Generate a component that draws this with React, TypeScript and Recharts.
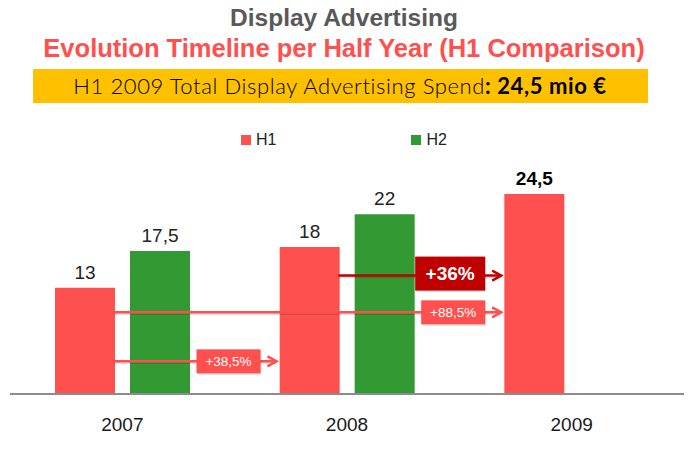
import { BarChart, Bar, XAxis, YAxis, LabelList, ReferenceLine } from "recharts";

const TITLE = "Display Advertising";
const SUBTITLE = "Evolution Timeline per Half Year (H1 Comparison)";
const BANNER_TEXT = "H1 2009 Total Display Advertising Spend";
const BANNER_VALUE = ": 24,5 mio €";

const YEARS = ["2007", "2008", "2009"];
const H1 = [13, 18, 24.5];
const H2: (number | null)[] = [17.5, 22, null];

const SERIES = [
  { key: "h1", name: "H1", color: "#FF5050" },
  { key: "h2", name: "H2", color: "#339933" },
];

// growth arrows: from year, to year, height on the value axis, label
const ARROW_FROM = ["2007", "2007", "2008"];
const ARROW_TO = ["2008", "2009", "2009"];
const ARROW_LEVEL = [4, 10, 14.5];
const ARROW_TEXT = ["+38,5%", "+88,5%", "+36%"];
const ARROW_STRONG = [false, false, true];

const RED = "#FF5050";
const RED_DARK = "#C00000";
const BAR_SIZE = 60;
const BAR_GAP = 15;
const FONT = "'Liberation Sans', Arial, sans-serif";

const data = YEARS.map((year, i) => ({ year, h1: H1[i], h2: H2[i] }));

const fmt = (v: number) => String(v).replace(".", ",");

const valueLabel = (p: any) => {
  if (p.value == null) return null;
  const vb = p.viewBox ?? p;
  const bold = p.value === H1[H1.length - 1];
  return (
    <text
      x={vb.x + vb.width / 2}
      y={vb.y - 9}
      textAnchor="middle"
      fontFamily={FONT}
      fontSize={19}
      fontWeight={bold ? 700 : 400}
      fill={bold ? "#000" : "#222"}
    >
      {fmt(p.value)}
    </text>
  );
};

const arrowShape = (i: number) => (p: any) => {
  const strong = ARROW_STRONG[i];
  const color = strong ? RED_DARK : RED;
  const y = p.y1;
  const x0 = p.x1 - BAR_GAP / 2 - 1;
  const tip = p.x2 - (BAR_SIZE * 2 + BAR_GAP) / 2 - 3;
  const w = strong ? 70 : 64;
  const h = strong ? 34 : 24;
  const bx = tip - 16 - w;
  const by = strong ? y - 19 : y - h / 2;
  return (
    <g>
      <line x1={x0} y1={y + 1.5} x2={tip} y2={y + 1.5} stroke="#000" strokeOpacity={0.12} strokeWidth={2.5} />
      <line x1={x0} y1={y} x2={tip} y2={y} stroke={color} strokeWidth={2.5} />
      <polyline
        points={`${tip - 9},${y - 5} ${tip},${y} ${tip - 9},${y + 5}`}
        fill="none"
        stroke={color}
        strokeWidth={2.5}
      />
      <rect x={bx + 1} y={by + 1.5} width={w} height={h} fill="#000" fillOpacity={0.12} />
      <rect x={bx} y={by} width={w} height={h} fill={color} />
      <text
        x={bx + w / 2}
        y={by + h / 2}
        dominantBaseline="central"
        textAnchor="middle"
        fill="#fff"
        fontFamily={FONT}
        fontSize={strong ? 19 : 13.5}
        fontWeight={strong ? 700 : 400}
      >
        {ARROW_TEXT[i]}
      </text>
    </g>
  );
};

export default function App() {
  return (
    <div
      style={{
        position: "absolute",
        left: 0,
        top: 0,
        width: 695,
        height: 459,
        background: "#fff",
        fontFamily: FONT,
      }}
    >
      <BarChart
        width={695}
        height={459}
        data={data}
        margin={{ top: 149, right: 11, bottom: 5, left: 10 }}
        barSize={BAR_SIZE}
        barGap={BAR_GAP}
      >
        <XAxis
          dataKey="year"
          height={60}
          tickLine={false}
          axisLine={{ stroke: "#8c8c8c", strokeWidth: 2 }}
          tick={{ fontSize: 19, fill: "#1a1a1a", fontFamily: FONT }}
          tickMargin={18}
        />
        <YAxis hide domain={[0, 30]} />
        {SERIES.map((s) => (
          <Bar key={s.key} dataKey={s.key} name={s.name} fill={s.color} isAnimationActive={false}>
            <LabelList dataKey={s.key} content={valueLabel} />
          </Bar>
        ))}
        {ARROW_TEXT.map((t, i) => (
          <ReferenceLine
            key={t}
            ifOverflow="visible"
            segment={[
              { x: ARROW_FROM[i], y: ARROW_LEVEL[i] },
              { x: ARROW_TO[i], y: ARROW_LEVEL[i] },
            ]}
            shape={arrowShape(i)}
          />
        ))}
      </BarChart>

      <svg width={695} height={110} style={{ position: "absolute", left: 0, top: 0, pointerEvents: "none" }}>
        <text x={344} y={26} textAnchor="middle" fontFamily={FONT} fontWeight={700} fontSize={24.5} fill="#595959">
          {TITLE}
        </text>
        <text x={344} y={57} textAnchor="middle" fontFamily={FONT} fontWeight={700} fontSize={25.5} fill={RED}>
          {SUBTITLE}
        </text>
        <rect x={33} y={69} width={615} height={34} fill="#FFC000" />
        <text
          x={340}
          y={94}
          textAnchor="middle"
          fontFamily="Lato, sans-serif"
          fontSize={22}
          letterSpacing={0.6}
          fill="#000"
        >
          <tspan fontWeight={300}>{BANNER_TEXT}</tspan>
          <tspan fontWeight={700}>{BANNER_VALUE}</tspan>
        </text>
      </svg>

      <div
        style={{
          position: "absolute",
          top: 131,
          left: 241,
          display: "flex",
          gap: 135,
          fontSize: 16,
          color: "#222",
          lineHeight: "18px",
        }}
      >
        {SERIES.map((s) => (
          <div key={s.key} style={{ display: "flex", alignItems: "center", gap: 5 }}>
            <span style={{ width: 10, height: 10, background: s.color, display: "inline-block" }} />
            <span>{s.name}</span>
          </div>
        ))}
      </div>
    </div>
  );
}
